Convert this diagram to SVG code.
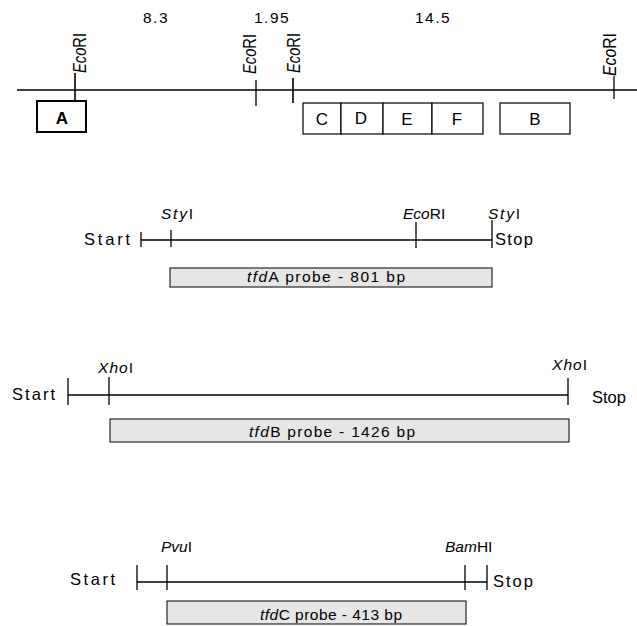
<svg xmlns="http://www.w3.org/2000/svg" width="637" height="626" viewBox="0 0 637 626">
<style>
text{font-family:"Liberation Sans",Arial,sans-serif;fill:#000}
.num{font-size:15.5px;letter-spacing:1.5px}
.site{font-size:18px}
.lbl{font-size:15.5px}
.end{font-size:16.5px}
.gene{font-size:17px;text-anchor:middle}
.probe{font-size:15.5px}
.ln{stroke:#000;stroke-width:1.3;fill:none}
.main{stroke:#000;stroke-width:1.6;fill:none}
.box{fill:#fff;stroke:#000;stroke-width:1.2}
.pbox{fill:#e6e6e6;stroke:#000;stroke-width:1}
</style>

<g id="map">
  <text class="num" x="143" y="23">8.3</text>
  <text class="num" x="254" y="23">1.95</text>
  <text class="num" x="415" y="23">14.5</text>
  <line class="main" x1="17" y1="90" x2="637" y2="90"/>
  <g id="ecori-1">
    <line class="main" x1="75" y1="73" x2="75" y2="100"/>
    <text class="site" transform="translate(86,73) rotate(-90)" textLength="40" lengthAdjust="spacingAndGlyphs"><tspan font-style="italic">Eco</tspan>RI</text>
  </g>
  <g id="ecori-2">
    <line class="ln" x1="256" y1="80" x2="256" y2="106"/>
    <text class="site" transform="translate(256,74) rotate(-90)" textLength="40" lengthAdjust="spacingAndGlyphs"><tspan font-style="italic">Eco</tspan>RI</text>
  </g>
  <g id="ecori-3">
    <line class="main" x1="293" y1="78" x2="293" y2="103"/>
    <text class="site" transform="translate(300,73) rotate(-90)" textLength="40" lengthAdjust="spacingAndGlyphs"><tspan font-style="italic">Eco</tspan>RI</text>
  </g>
  <g id="ecori-4">
    <line class="ln" x1="614" y1="76" x2="614" y2="99"/>
    <text class="site" transform="translate(616,76) rotate(-90)" textLength="43" lengthAdjust="spacingAndGlyphs"><tspan font-style="italic">Eco</tspan>RI</text>
  </g>
  <g id="gene-A">
    <rect x="37" y="101" width="49" height="31" fill="#fff" stroke="#000" stroke-width="2"/>
    <text class="gene" x="62" y="124" font-weight="bold">A</text>
  </g>
  <g id="gene-C"><rect class="box" x="303" y="103" width="38" height="31"/><text class="gene" x="322" y="125">C</text></g>
  <g id="gene-D"><rect class="box" x="341" y="103" width="42" height="31"/><text class="gene" x="361" y="124">D</text></g>
  <g id="gene-E"><rect class="box" x="383" y="103" width="49" height="31"/><text class="gene" x="407" y="125">E</text></g>
  <g id="gene-F"><rect class="box" x="432" y="103" width="51" height="31"/><text class="gene" x="457" y="125">F</text></g>
  <g id="gene-B"><rect class="box" x="500" y="103" width="70" height="31"/><text class="gene" x="535" y="125">B</text></g>
</g>

<g id="tfdA">
  <text class="end" x="84" y="245" textLength="46" lengthAdjust="spacing">Start</text>
  <line class="ln" x1="141" y1="240" x2="492" y2="240"/>
  <line class="ln" x1="141" y1="232" x2="141" y2="247"/>
  <line class="ln" x1="171" y1="230" x2="171" y2="247"/>
  <line class="ln" x1="416" y1="222" x2="416" y2="248"/>
  <line class="ln" x1="492" y1="220" x2="492" y2="248"/>
  <text class="end" x="495" y="245" textLength="38" lengthAdjust="spacing">Stop</text>
  <text class="lbl" x="161" y="219" textLength="32" lengthAdjust="spacing"><tspan font-style="italic">Sty</tspan>I</text>
  <text class="lbl" x="403" y="219" font-size="15"><tspan font-style="italic">Eco</tspan>RI</text>
  <text class="lbl" x="488" y="219" textLength="32" lengthAdjust="spacing"><tspan font-style="italic">Sty</tspan>I</text>
  <rect class="pbox" x="170" y="268" width="322" height="19"/>
  <text class="probe" x="247" y="282" textLength="158" lengthAdjust="spacing"><tspan font-style="italic">tfd</tspan>A probe - 801 bp</text>
</g>

<g id="tfdB">
  <text class="end" x="12" y="400" textLength="43" lengthAdjust="spacing">Start</text>
  <line class="ln" x1="68" y1="395" x2="568" y2="395"/>
  <line class="ln" x1="68" y1="378" x2="68" y2="405"/>
  <line class="ln" x1="109" y1="377" x2="109" y2="405"/>
  <line class="ln" x1="568" y1="378" x2="568" y2="405"/>
  <text class="end" x="592" y="403" font-size="16">Stop</text>
  <text class="lbl" x="98" y="373" textLength="35" lengthAdjust="spacing"><tspan font-style="italic">Xho</tspan>I</text>
  <text class="lbl" x="552" y="370" textLength="35" lengthAdjust="spacing"><tspan font-style="italic">Xho</tspan>I</text>
  <rect class="pbox" x="110" y="419" width="459" height="23"/>
  <text class="probe" x="249" y="437" textLength="166" lengthAdjust="spacing"><tspan font-style="italic">tfd</tspan>B probe - 1426 bp</text>
</g>

<g id="tfdC">
  <text class="end" x="70" y="585" textLength="45" lengthAdjust="spacing">Start</text>
  <line class="ln" x1="137" y1="582" x2="487" y2="582"/>
  <line class="ln" x1="137" y1="565" x2="137" y2="590"/>
  <line class="ln" x1="167" y1="565" x2="167" y2="590"/>
  <line class="ln" x1="465" y1="565" x2="465" y2="590"/>
  <line class="ln" x1="487" y1="565" x2="487" y2="590"/>
  <text class="end" x="493" y="587" textLength="40" lengthAdjust="spacing">Stop</text>
  <text class="lbl" x="161" y="552" textLength="31" lengthAdjust="spacing"><tspan font-style="italic">Pvu</tspan>I</text>
  <text class="lbl" x="445" y="552" font-size="14.2"><tspan font-style="italic">Bam</tspan>HI</text>
  <rect class="pbox" x="167" y="601" width="299" height="23"/>
  <text class="probe" x="260" y="620" textLength="142" lengthAdjust="spacing"><tspan font-style="italic">tfd</tspan>C probe - 413 bp</text>
</g>
</svg>
